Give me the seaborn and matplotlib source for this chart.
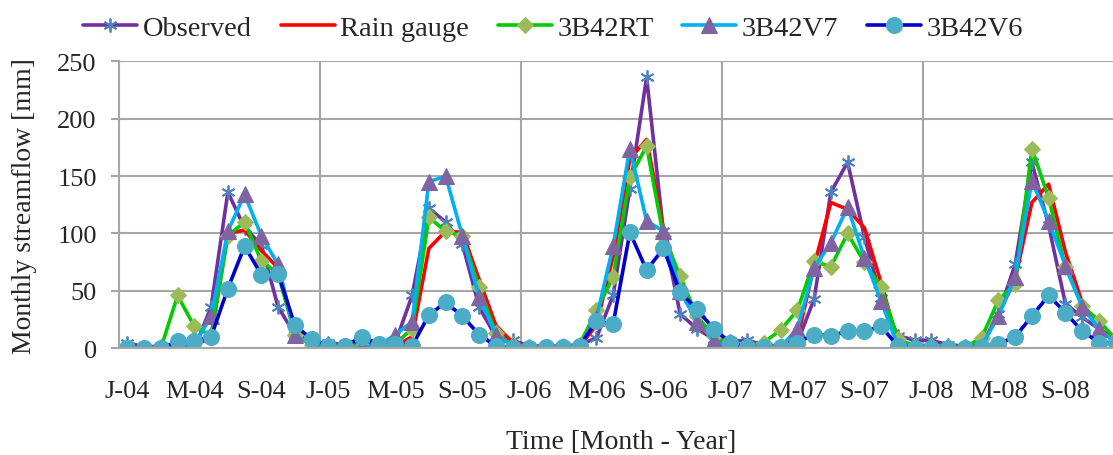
import numpy as np
import pandas as pd
import matplotlib
matplotlib.use("Agg")
import matplotlib.pyplot as plt
import seaborn as sns

# ---- data (monthly, Jan-2004 .. Dec-2008) ----
tick_labels = ["J-04", "M-04", "S-04", "J-05", "M-05", "S-05", "J-06", "M-06", "S-06",
               "J-07", "M-07", "S-07", "J-08", "M-08", "S-08"]

observed = [5, 1, 2, 0, 0, 36, 136, 105, 90, 36, 12, 5,
            5, 3, 5, 4, 5, 46, 122, 110, 91, 36, 10, 7,
            2, 2, 2, 3, 9, 46, 139, 236, 102, 30, 17, 8,
            6, 7, 3, 2, 5, 43, 136, 162, 97, 44, 11, 7,
            7, 3, 2, 2, 30, 73, 162, 107, 39, 27, 17, 8]
rain_gauge = [0, 0, 1, 1, 2, 10, 100, 103, 85, 70, 15, 3,
              1, 1, 1, 1, 2, 10, 87, 102, 101, 60, 20, 5,
              1, 1, 1, 2, 20, 80, 165, 182, 104, 57, 20, 7,
              2, 1, 1, 2, 8, 72, 127, 121, 105, 57, 5, 2,
              2, 1, 1, 2, 30, 60, 127, 143, 84, 40, 18, 5]
b42rt = [0, 0, 0, 46, 19, 11, 98, 110, 76, 65, 12, 3,
         2, 2, 2, 2, 4, 17, 114, 102, 98, 53, 13, 3,
         1, 1, 2, 3, 33, 62, 149, 176, 98, 63, 28, 11,
         3, 2, 5, 16, 33, 76, 71, 100, 75, 53, 8, 2,
         2, 1, 1, 9, 42, 56, 174, 131, 71, 37, 24, 8]
b42v7 = [0, 0, 0, 2, 3, 28, 102, 134, 98, 73, 12, 3,
         1, 0, 1, 2, 12, 23, 145, 150, 98, 45, 12, 2,
         0, 0, 1, 2, 26, 89, 174, 111, 102, 50, 23, 7,
         0, 0, 0, 1, 17, 70, 92, 123, 79, 41, 2, 1,
         1, 0, 0, 2, 28, 62, 146, 111, 72, 36, 17, 5]
b42v6 = [0, 0, 0, 6, 6, 10, 52, 89, 64, 65, 20, 8,
         2, 2, 10, 4, 4, 2, 29, 40, 28, 12, 2, 0,
         0, 1, 1, 2, 24, 21, 101, 68, 87, 49, 34, 17,
         5, 1, 1, 1, 5, 12, 11, 15, 15, 19, 2, 0,
         0, 0, 0, 1, 4, 10, 28, 46, 31, 15, 5, 5]

months = np.arange(len(observed))

sns.set_style("white")
plt.rcParams["font.family"] = ["Liberation Serif", "DejaVu Serif"]

fig = plt.figure(figsize=(11.13, 4.56), dpi=100)
ax = fig.add_axes([0.1069, 0.234, 0.903, 0.6294])

series = [
    ("Observed", observed, dict(color="#7030A0", marker=(6, 2, 0), markersize=10,
                                markeredgecolor="#4F81BD", markerfacecolor="#4F81BD",
                                markeredgewidth=1.3)),
    ("Rain gauge", rain_gauge, dict(color="#FF0000")),
    ("3B42RT", b42rt, dict(color="#00CC00", marker="D", markersize=8,
                           markeredgecolor="#9BBB59", markerfacecolor="#9BBB59")),
    ("3B42V7", b42v7, dict(color="#00B0F0", marker="^", markersize=11,
                           markeredgecolor="#8064A2", markerfacecolor="#8064A2")),
    ("3B42V6", b42v6, dict(color="#0000CC", marker="o", markersize=11.5,
                           markeredgecolor="#4BACC6", markerfacecolor="#4BACC6")),
]

for name, vals, kw in series:
    sns.lineplot(x=months, y=vals, ax=ax, label=name, linewidth=2.6, **kw)

ax.set_xlim(-0.5, 59.5)
ax.set_ylim(0, 250)
ax.set_yticks(np.arange(0, 251, 50))
ax.set_xticks(np.arange(0, 60, 4))
ax.set_xticklabels(tick_labels)
ax.set_xticks(np.arange(-0.5, 60, 12), minor=True)

ax.grid(True, axis="y", which="major", color="#A6A6A6", linewidth=1.5)
ax.grid(True, axis="x", which="minor", color="#A6A6A6", linewidth=1.5)
ax.grid(False, axis="x", which="major")
ax.set_axisbelow(True)

for s in ["top", "right"]:
    ax.spines[s].set_visible(False)
for s in ["left", "bottom"]:
    ax.spines[s].set_color("#A6A6A6")
    ax.spines[s].set_linewidth(1.5)

ax.tick_params(axis="x", which="both", length=0, pad=23, labelsize=19)
ax.tick_params(axis="y", which="major", left=True, length=6, width=1.5,
               color="#A6A6A6", direction="out", pad=10, labelsize=19)

ax.set_xlabel("Time [Month - Year]", fontsize=20)
ax.set_ylabel("Monthly streamflow [mm]", fontsize=20)
ax.xaxis.set_label_coords(0.5, -0.28)
ax.yaxis.set_label_coords(-0.082, 0.5)

handles, labels = ax.get_legend_handles_labels()
ax.get_legend().remove()
fig.legend(handles, labels, loc="upper center", bbox_to_anchor=(0.497, 1.0), ncol=5,
           frameon=False, fontsize=20.5, handlelength=1.9, handletextpad=0.2,
           columnspacing=1.0, borderaxespad=0.15)

fig.savefig("out.png", dpi=100)
